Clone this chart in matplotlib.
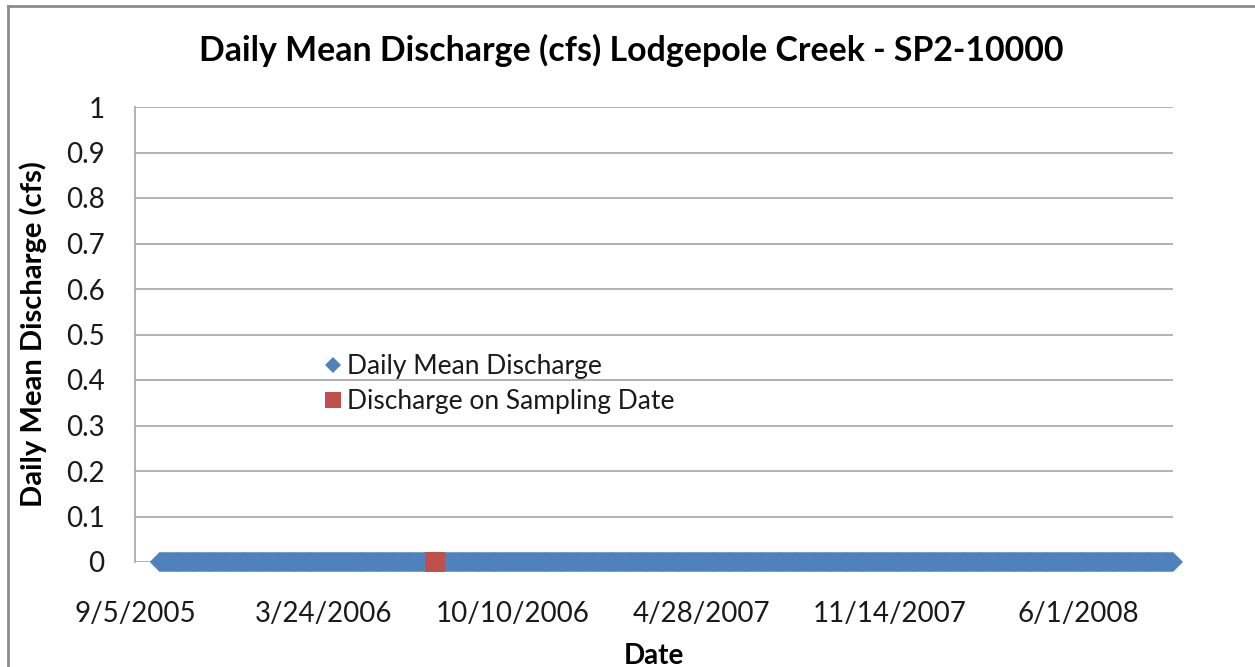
import datetime as dt
import numpy as np
import matplotlib
matplotlib.use("Agg")
import matplotlib.pyplot as plt
import matplotlib.dates as mdates
from matplotlib.lines import Line2D

# Daily mean discharge record (cfs) -- the gauge read zero for the whole period
record_start = dt.date(2005, 10, 1)
record_end = dt.date(2008, 9, 9)
daily_dates = [record_start + dt.timedelta(days=i)
               for i in range((record_end - record_start).days + 1)]
daily_discharge = [0.0] * len(daily_dates)

# Discharge on the sampling date
sample_dates = [dt.date(2006, 7, 20)]
sample_discharge = [0.0]

# Axis settings (Excel-style date axis: 200-day major unit)
x_min = dt.date(2005, 9, 5)
x_max = dt.date(2008, 9, 9)
x_ticks = [dt.date(2005, 9, 5), dt.date(2006, 3, 24), dt.date(2006, 10, 10),
           dt.date(2007, 4, 28), dt.date(2007, 11, 14), dt.date(2008, 6, 1)]
y_ticks = [0, 0.1, 0.2, 0.3, 0.4, 0.5, 0.6, 0.7, 0.8, 0.9, 1]

title = "Daily Mean Discharge (cfs) Lodgepole Creek - SP2-10000"
xlabel = "Date"
ylabel = "Daily Mean Discharge (cfs)"

plt.rcParams["font.family"] = ["Lato", "DejaVu Sans"]

W, H = 1255, 667
fig = plt.figure(figsize=(W / 100, H / 100), dpi=100)
fig.patch.set_facecolor("white")

left, right, top, bottom = 135, 1173, 107, 562
ax = fig.add_axes([left / W, 1 - bottom / H, (right - left) / W, (bottom - top) / H])

grid_color = "#a6a6a6"
text_color = "#1a1a1a"
ax.set_xlim(mdates.date2num(x_min), mdates.date2num(x_max))
ax.set_ylim(0, 1)
ax.set_yticks(y_ticks)
ax.set_yticklabels([f"{v:g}" for v in y_ticks])
ax.set_xticks([mdates.date2num(d) for d in x_ticks])
ax.set_xticklabels([f"{d.month}/{d.day}/{d.year}" for d in x_ticks])
ax.yaxis.grid(True, color=grid_color, linewidth=1.2)
ax.set_axisbelow(True)
for side in ("top", "right", "bottom"):
    ax.spines[side].set_visible(False)
ax.spines["left"].set_color(grid_color)
ax.spines["left"].set_linewidth(1.2)
ax.tick_params(axis="y", length=0, pad=22, labelsize=20, colors=text_color)
ax.tick_params(axis="x", length=0, pad=28, labelsize=20, colors=text_color)

ax.plot(mdates.date2num(daily_dates), daily_discharge, linestyle="none",
        marker="D", markersize=9.7, color="#4f81bd", markeredgewidth=0,
        clip_on=False, label="Daily Mean Discharge", zorder=3)
ax.plot(mdates.date2num(sample_dates), sample_discharge, linestyle="none",
        marker="s", markersize=14, color="#c0504d", markeredgewidth=0,
        clip_on=False, label="Discharge on Sampling Date", zorder=4)

fig.text(631 / W, 1 - 50 / H, title, fontsize=24.4, fontweight="bold",
         ha="center", va="center", color="black")
ax.set_xlabel(xlabel, fontsize=20, fontweight="bold", color="black")
ax.xaxis.set_label_coords(0.5, -(656 - bottom) / (bottom - top))
ax.set_ylabel(ylabel, fontsize=21, fontweight="bold", color="black")
ax.yaxis.set_label_coords(-(left - 33) / (right - left), 0.5)
ax.xaxis.label.set_va("center")
ax.yaxis.label.set_va("center")

leg = ax.legend(loc="center left",
                bbox_to_anchor=((325 - left) / (right - left), 1 - (384 - top) / (bottom - top)),
                frameon=False, fontsize=19, handlelength=0.6, handletextpad=0.25,
                borderpad=0, borderaxespad=0, labelspacing=0.37, markerscale=0.85)
for t in leg.get_texts():
    t.set_color(text_color)

# Outer chart border
fig.add_artist(Line2D([8 / W, 8 / W], [0, 1 - 6 / H], color="#8c8c8c", linewidth=2,
                      transform=fig.transFigure))
fig.add_artist(Line2D([8 / W, 1], [1 - 6 / H, 1 - 6 / H], color="#8c8c8c", linewidth=2,
                      transform=fig.transFigure))

fig.savefig("out.png", dpi=100)
